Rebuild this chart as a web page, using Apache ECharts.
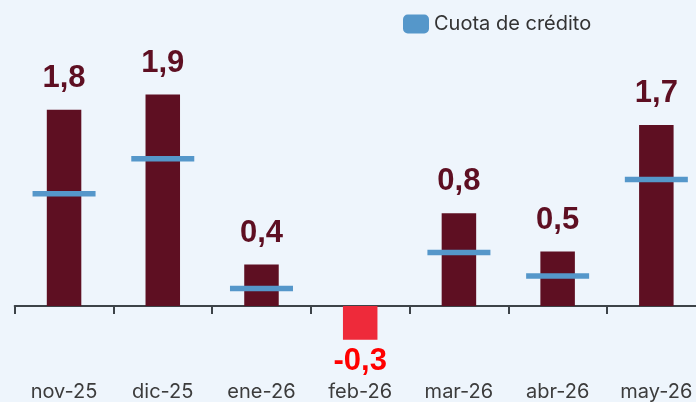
<!DOCTYPE html>
<html>
<head>
<meta charset="utf-8">
<script src="https://cdn.jsdelivr.net/npm/echarts@6/dist/echarts.min.js"></script>
<style>
html,body{margin:0;padding:0;background:#eef5fc;}
#c{width:696px;height:402px;}
</style>
</head>
<body>
<div id="c"></div>
<script>
const categories = ['nov-25','dic-25','ene-26','feb-26','mar-26','abr-26','may-26'];
const totalValues = [1.80, 1.94, 0.38, -0.31, 0.85, 0.50, 1.66];
const cuotaValues = [1.03, 1.35, 0.16, null, 0.49, 0.275, 1.16];
const legendName = 'Cuota de crédito';

const chart = echarts.init(document.getElementById('c'), null, {renderer:'canvas'});
const fmt = v => v.toFixed(1).replace('.', ',');

chart.setOption({
  backgroundColor: '#eef5fc',
  animation: false,
  legend: {
    data: [legendName],
    left: 398, top: 9,
    icon: 'roundRect',
    itemWidth: 26, itemHeight: 19,
    itemStyle: {color: '#5597ca'},
    textStyle: {fontFamily: 'Inter', fontSize: 20, color: '#333'}
  },
  grid: {left: 14.7, width: 691, top: 22.6, height: 348.8, containLabel: false, outerBoundsMode: 'none'},
  xAxis: {
    type: 'category',
    data: categories,
    axisLine: {onZero: true, lineStyle: {color: '#3d4348', width: 2}},
    axisTick: {show: true, length: 8, lineStyle: {color: '#3d4348', width: 2}},
    axisLabel: {margin: 11, fontFamily: 'Inter', fontSize: 20, color: '#3c3c3c'},
    splitLine: {show: false}
  },
  yAxis: {
    type: 'value', min: -0.6, max: 2.6, show: false,
    splitLine: {show: false}
  },
  series: [
    {
      name: 'Total',
      type: 'bar',
      barWidth: 34.5,
      data: totalValues.map(v => v < 0 ? {
        value: v,
        itemStyle: {color: '#ee2a3a'},
        label: {position: 'bottom', distance: 6, color: '#ff0000'}
      } : v),
      itemStyle: {color: '#5e0f22'},
      label: {
        show: true, position: 'top', distance: 16,
        fontFamily: 'Liberation Sans, Arial', fontWeight: 'bold', fontSize: 31,
        color: '#5e0f22',
        formatter: p => fmt(p.value)
      },
      z: 2
    },
    {
      name: legendName,
      type: 'scatter',
      symbol: 'rect',
      symbolSize: [63, 5.5],
      data: cuotaValues,
      itemStyle: {color: '#5597ca', opacity: 1},
      z: 3
    }
  ]
});
</script>
</body>
</html>
